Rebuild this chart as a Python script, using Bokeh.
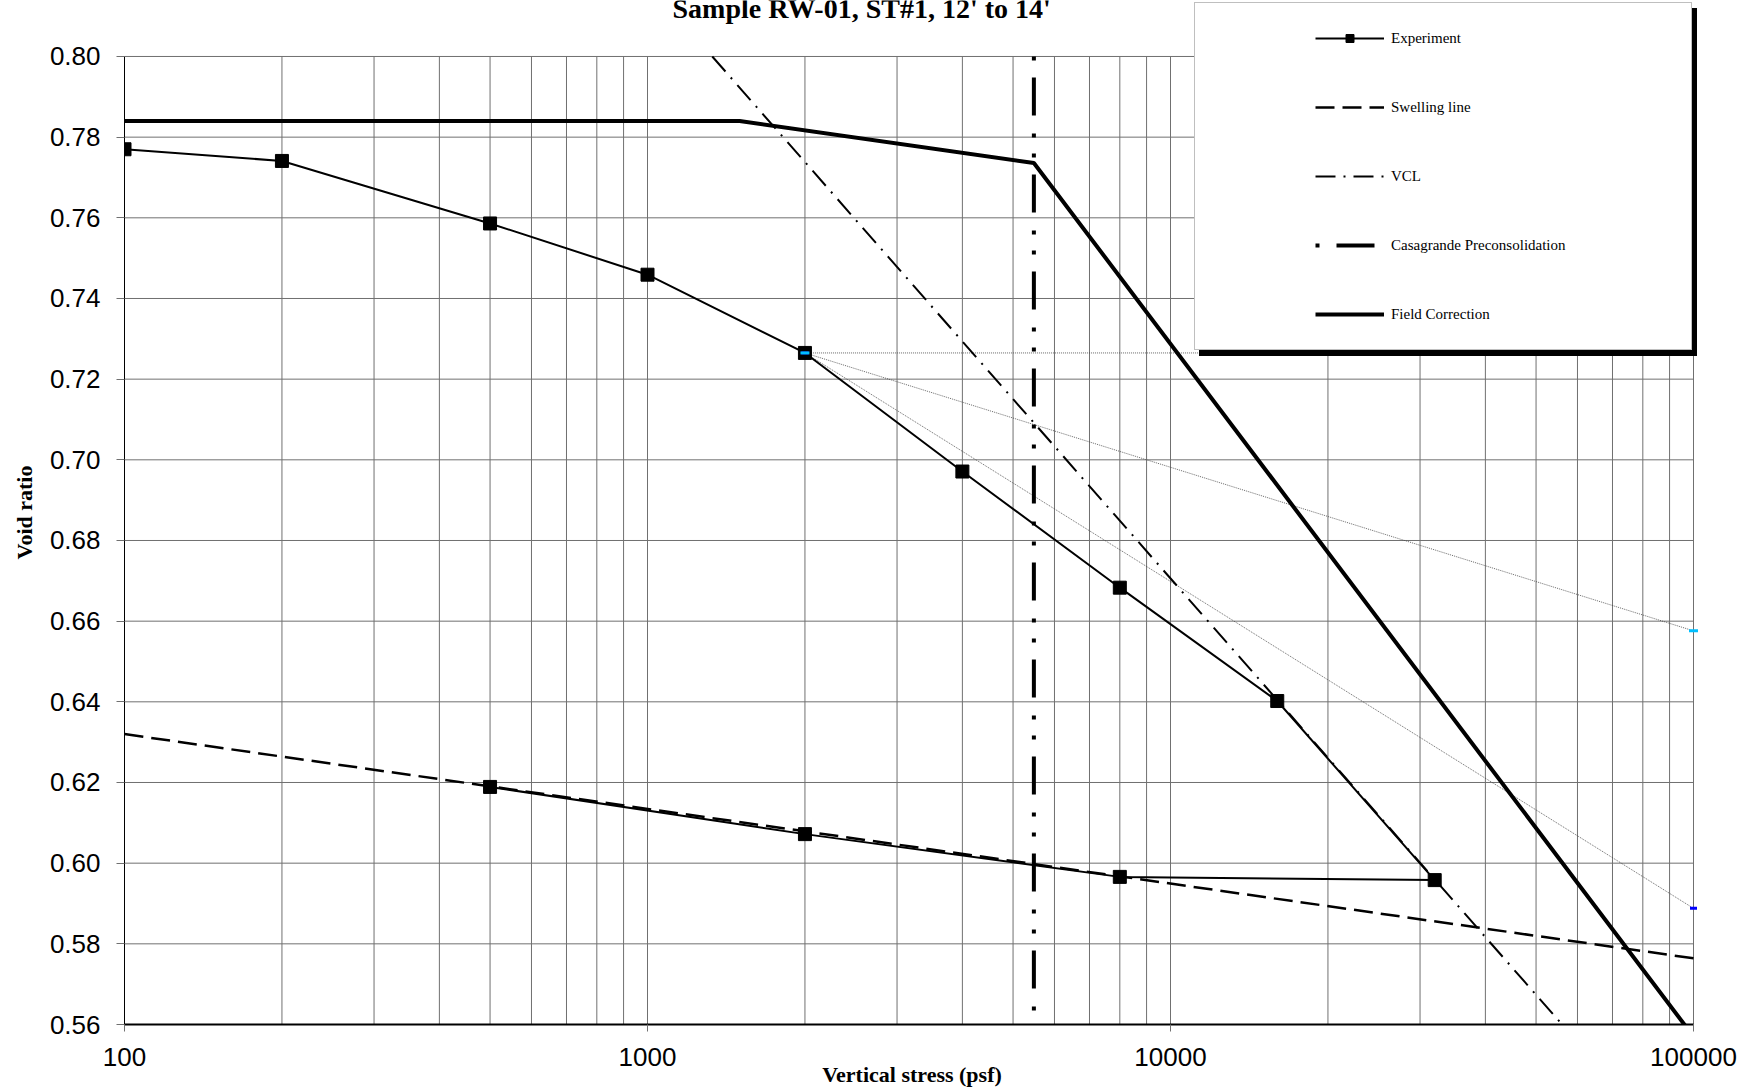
from bokeh.plotting import figure
from bokeh.models import FixedTicker, PrintfTickFormatter, Legend, LegendItem, Range1d, Label
from bokeh.embed import file_html
from bokeh.resources import INLINE

# ---------------- data ----------------
exp_stress = [100, 200, 500, 1000, 2000, 4000, 8000, 16000, 32000, 8000, 2000, 500]
exp_void = [0.7770, 0.7741, 0.7586, 0.7459, 0.7265, 0.6971, 0.6683, 0.6402, 0.5958, 0.5966, 0.6072, 0.6189]

swell_stress = [100, 100000]
swell_void = [0.6320, 0.5764]

vcl_stress = [1330, 100000]
vcl_void = [0.80, 0.5229]

casa_stress = [5480, 5480]
casa_void = [0.80, 0.56]

field_stress = [100, 1500, 5480, 100000]
field_void = [0.784, 0.784, 0.7736, 0.557]

horiz_stress = [2000, 100000]
horiz_void = [0.7265, 0.7265]
bisect_stress = [2000, 100000]
bisect_void = [0.7265, 0.6576]
tangent_stress = [2000, 100000]
tangent_void = [0.7265, 0.5888]

x_major = [100, 1000, 10000, 100000]
x_minor = [200, 300, 400, 500, 600, 700, 800, 900,
           2000, 3000, 4000, 5000, 6000, 7000, 8000, 9000,
           20000, 30000, 40000, 50000, 60000, 70000, 80000, 90000]
y_ticks = [0.56, 0.58, 0.60, 0.62, 0.64, 0.66, 0.68, 0.70, 0.72, 0.74, 0.76, 0.78, 0.80]

title_text = "Sample  RW-01, ST#1, 12' to 14'"
x_label = "Vertical stress (psf)"
y_label = "Void ratio"
legend_labels = ["Experiment", "Swelling line", "VCL", "Casagrande Preconsolidation", "Field Correction"]

SERIF = "Liberation Serif"
SANS = "Liberation Sans"
GRID = "#707070"

# the frame reaches a little past the axes box (top and right) so the legend box and its
# shadow, which stick out of the plot area in the reference, are not clipped
X0, X1 = x_major[0], x_major[-1]
Y0, Y1 = y_ticks[0], y_ticks[-1]
x_end = X1 * 10 ** (6 / 523.0)
p = figure(width=1744, height=1091, x_axis_type="log",
           x_range=Range1d(X0, x_end), y_range=Range1d(Y0, 0.81388),
           output_backend="svg", toolbar_location=None,
           min_border_left=124, min_border_right=45, min_border_top=0, min_border_bottom=67)
p.title.visible = False
p.outline_line_color = None
p.background_fill_color = "white"

# axes
xa = p.xaxis[0]
xa.ticker = FixedTicker(ticks=x_major, minor_ticks=x_minor)
xa.formatter = PrintfTickFormatter(format="%d")
xa.bounds = (X0, X1)
ya = p.yaxis[0]
ya.ticker = FixedTicker(ticks=y_ticks)
ya.formatter = PrintfTickFormatter(format="%.2f")
ya.bounds = (Y0, Y1)
for ax in (xa, ya):
    ax.major_label_text_font = SANS
    ax.major_label_text_font_size = "26px"
    ax.major_label_text_color = "black"
    ax.axis_label_text_font = SERIF
    ax.axis_label_text_font_style = "bold"
    ax.axis_label_text_font_size = "22px"
    ax.axis_label_text_color = "black"
    ax.major_tick_line_color = GRID
    ax.minor_tick_line_color = None
    ax.major_tick_in = 0
    ax.minor_tick_in = 0
    ax.minor_tick_out = 0
    ax.major_label_standoff = 16
xa.axis_label = x_label
ya.axis_label = y_label
xa.major_tick_out = 7
ya.major_tick_out = 8
xa.axis_line_width = 2
xa.axis_line_color = "black"
ya.axis_line_color = "black"
xa.axis_label_standoff = -7
ya.axis_label_standoff = 10

# grid lines limited to the axes box (100..100000, 0.56..0.80)
p.xgrid.visible = False
p.ygrid.visible = False
grid_x = x_major + x_minor
p.segment(x0=grid_x, y0=[Y0] * len(grid_x), x1=grid_x, y1=[Y1] * len(grid_x),
          line_color=GRID, line_width=1)
p.segment(x0=[X0] * len(y_ticks), y0=y_ticks, x1=[X1] * len(y_ticks), y1=y_ticks,
          line_color=GRID, line_width=1)

# construction lines
p.line(horiz_stress, horiz_void, line_color="#444444", line_width=0.8, line_dash="1 1")
p.line(bisect_stress, bisect_void, line_color="#444444", line_width=0.8, line_dash="1 1")
p.line(tangent_stress, tangent_void, line_color="#444444", line_width=0.8, line_dash="1 1")

r_swell = p.line(swell_stress, swell_void, line_color="black", line_width=2.5, line_dash="19 8")
r_vcl = p.line(vcl_stress, vcl_void, line_color="black", line_width=2, line_dash="20 8 2 8")
r_casa = p.line(casa_stress, casa_void, line_color="black", line_width=4,
                line_dash="38 18 4 16 4 17", line_dash_offset=76)
r_field = p.line(field_stress, field_void, line_color="black", line_width=4)
r_exp_l = p.line(exp_stress, exp_void, line_color="black", line_width=2)
r_exp_m = p.scatter(exp_stress, exp_void, marker="square", size=13, fill_color="black", line_color="black")

p.scatter(tangent_stress, tangent_void, marker="dash", size=7, line_width=3, line_color="#0000FF")
p.scatter(bisect_stress, bisect_void, marker="dash", size=9, line_width=3, line_color="#00BFFF")

# title (partly cut by the top edge as in the reference)
p.add_layout(Label(x=548, y=1016, x_units="screen", y_units="screen", text=title_text,
                   text_font=SERIF, text_font_style="bold", text_font_size="28px",
                   text_color="black", text_baseline="alphabetic"))

renderer_sets = [[r_exp_l, r_exp_m], [r_swell], [r_vcl], [r_casa], [r_field]]

def make_legend(loc, shadow):
    labels = [" "] * len(legend_labels) if shadow else legend_labels
    items = [LegendItem(label=lab, renderers=rs) for lab, rs in zip(labels, renderer_sets)]
    lg = Legend(items=items, location=loc,
                title=" ", title_location="left", title_text_font_size="10px",
                title_standoff=84, title_text_alpha=0,
                glyph_width=69, glyph_height=20, label_height=20, label_width=275,
                label_standoff=7, spacing=49, padding=25, margin=0,
                label_text_font=SERIF, label_text_font_size="15px",
                border_line_width=1)
    if shadow:
        lg.background_fill_color = "black"
        lg.background_fill_alpha = 1.0
        lg.border_line_color = "black"
        lg.label_text_color = "black"
    else:
        lg.background_fill_color = "white"
        lg.background_fill_alpha = 1.0
        lg.border_line_color = "#808080"
        lg.label_text_color = "black"
    return lg

p.add_layout(make_legend((1075, 668), True), "center")
p.add_layout(make_legend((1070, 674), False), "center")

open("out.html", "w").write(file_html(p, INLINE))
